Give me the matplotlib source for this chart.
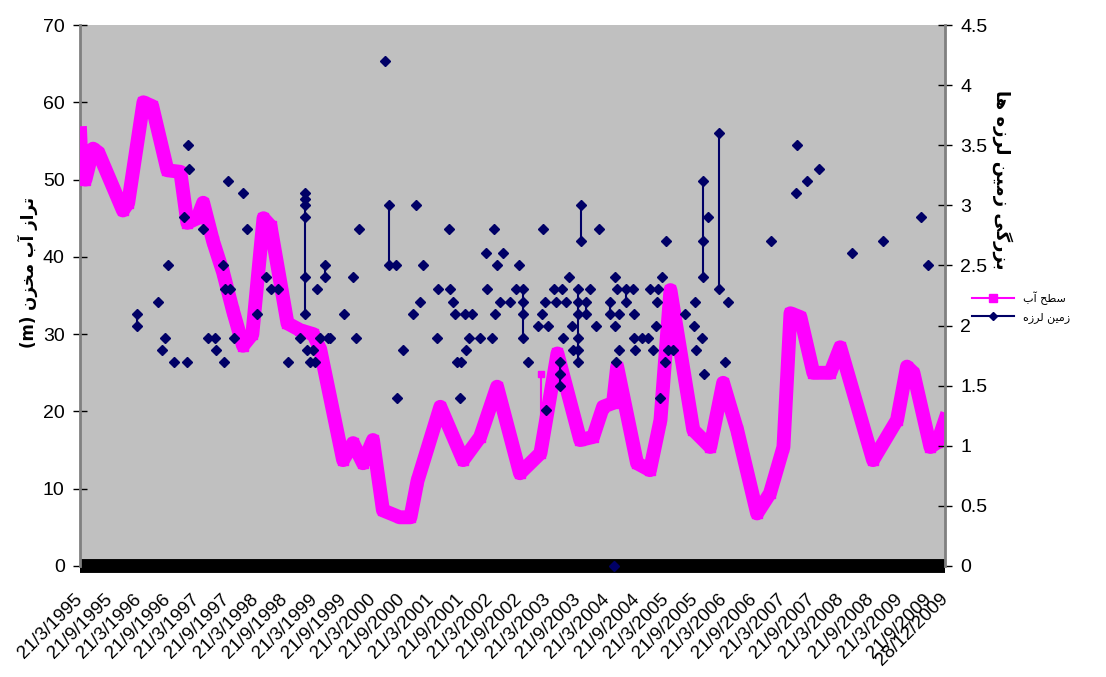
import datetime
import numpy as np
import matplotlib
matplotlib.use('Agg')
import matplotlib.pyplot as plt
from matplotlib.lines import Line2D

# reservoir water level (m), left axis
level_year = [1995.22, 1995.25, 1995.31, 1995.44, 1995.53, 1995.95, 1996.04, 1996.30,
              1996.45, 1996.71, 1996.93, 1997.05, 1997.22, 1997.32, 1997.49, 1997.66,
              1997.83, 1998.00, 1998.16, 1998.35, 1998.47, 1998.76, 1998.98, 1999.20,
              1999.32, 1999.71, 1999.88, 2000.05, 2000.22, 2000.39, 2000.68, 2000.86,
              2000.98, 2001.37, 2001.76, 2002.05, 2002.34, 2002.73, 2003.08, 2003.37,
              2003.76, 2003.98, 2004.15, 2004.32, 2004.39, 2004.73, 2004.95, 2005.13,
              2005.30, 2005.69, 2005.98, 2006.20, 2006.44, 2006.78, 2007.00, 2007.23,
              2007.35, 2007.52, 2007.74, 2008.03, 2008.20, 2008.76, 2009.17, 2009.34,
              2009.45, 2009.74, 2009.86, 2009.99]
level_m = [56, 50.5, 50, 54, 53.5, 46, 47, 60,
           59.5, 51.2, 51, 44.4, 45, 47, 42, 38,
           33, 28.5, 30, 45, 44, 31.4, 30.5, 30,
           28, 13.7, 15.9, 13.3, 16.3, 7.2, 6.3, 6.3,
           11, 20.6, 13.7, 16.7, 23.2, 12, 14.6, 27.5,
           16.3, 16.7, 20.6, 21.1, 25.8, 13.3, 12.4, 18.9,
           35.7, 17.6, 15.4, 23.7, 17.6, 6.8, 9.4, 15.4,
           32.7, 32.2, 25, 25, 28.3, 13.7, 18.9, 25.8,
           25, 15.4, 16, 18.9]

# short stray segments of the level series
spike_year = [2003.09, 2005.16]
spike_low = [17.2, 20.5]
spike_high = [24.8, 26.4]

# earthquakes: date and magnitude, right axis
quake_year = [1996.19, 1996.19, 1996.55, 1996.62, 1996.67, 1996.72, 1996.83, 1997.00,
              1997.05, 1997.06, 1997.08, 1997.32, 1997.41, 1997.53, 1997.54, 1997.66,
              1997.67, 1997.70, 1997.75, 1997.78, 1997.85, 1998.00, 1998.06, 1998.24,
              1998.40, 1998.47, 1998.60, 1998.77, 1998.98, 1999.06, 1999.06, 1999.06,
              1999.06, 1999.06, 1999.06, 1999.10, 1999.15, 1999.20, 1999.23, 1999.27,
              1999.32, 1999.40, 1999.40, 1999.46, 1999.49, 1999.73, 1999.88, 1999.93,
              1999.98, 2000.43, 2000.50, 2000.50, 2000.62, 2000.63, 2000.74, 2000.91,
              2000.96, 2001.03, 2001.08, 2001.32, 2001.33, 2001.52, 2001.54, 2001.59,
              2001.62, 2001.66, 2001.71, 2001.73, 2001.80, 2001.81, 2001.86, 2001.91,
              2002.05, 2002.15, 2002.16, 2002.26, 2002.29, 2002.31, 2002.34, 2002.39,
              2002.44, 2002.56, 2002.67, 2002.72, 2002.79, 2002.79, 2002.79, 2002.79,
              2002.87, 2003.04, 2003.11, 2003.13, 2003.16, 2003.18, 2003.21, 2003.31,
              2003.35, 2003.42, 2003.42, 2003.42, 2003.45, 2003.47, 2003.52, 2003.57,
              2003.62, 2003.63, 2003.72, 2003.72, 2003.72, 2003.72, 2003.72, 2003.72,
              2003.78, 2003.78, 2003.86, 2003.86, 2003.93, 2004.03, 2004.08, 2004.27,
              2004.27, 2004.34, 2004.35, 2004.36, 2004.37, 2004.39, 2004.42, 2004.43,
              2004.54, 2004.54, 2004.66, 2004.67, 2004.68, 2004.70, 2004.82, 2004.92,
              2004.95, 2005.01, 2005.06, 2005.07, 2005.09, 2005.13, 2005.16, 2005.21,
              2005.23, 2005.26, 2005.35, 2005.55, 2005.71, 2005.72, 2005.73, 2005.84,
              2005.86, 2005.86, 2005.86, 2005.88, 2005.94, 2006.13, 2006.13, 2006.24,
              2006.29, 2007.02, 2007.45, 2007.46, 2007.64, 2007.84, 2008.40, 2008.93,
              2009.58, 2009.70]
quake_mag = [2.1, 2.0, 2.2, 1.8, 1.9, 2.5, 1.7, 2.9,
             1.7, 3.5, 3.3, 2.8, 1.9, 1.9, 1.8, 2.5,
             1.7, 2.3, 3.2, 2.3, 1.9, 3.1, 2.8, 2.1,
             2.4, 2.3, 2.3, 1.7, 1.9, 3.1, 3.05, 3.0,
             2.9, 2.4, 2.1, 1.8, 1.7, 1.8, 1.7, 2.3,
             1.9, 2.5, 2.4, 1.9, 1.9, 2.1, 2.4, 1.9,
             2.8, 4.2, 3.0, 2.5, 2.5, 1.4, 1.8, 2.1,
             3.0, 2.2, 2.5, 1.9, 2.3, 2.8, 2.3, 2.2,
             2.1, 1.7, 1.4, 1.7, 2.1, 1.8, 1.9, 2.1,
             1.9, 2.6, 2.3, 1.9, 2.8, 2.1, 2.5, 2.2,
             2.6, 2.2, 2.3, 2.5, 2.3, 2.2, 2.1, 1.9,
             1.7, 2.0, 2.1, 2.8, 2.2, 1.3, 2.0, 2.3,
             2.2, 1.7, 1.6, 1.5, 2.3, 1.9, 2.2, 2.4,
             2.0, 1.8, 2.3, 2.2, 2.1, 1.9, 1.8, 1.7,
             3.0, 2.7, 2.2, 2.1, 2.3, 2.0, 2.8, 2.2,
             2.1, 0.0, 2.4, 2.0, 1.7, 2.3, 2.1, 1.8,
             2.3, 2.2, 2.3, 2.1, 1.9, 1.8, 1.9, 1.9,
             2.3, 1.8, 2.0, 2.2, 2.3, 1.4, 2.4, 1.7,
             2.7, 1.8, 1.8, 2.1, 2.0, 2.2, 1.8, 1.9,
             3.2, 2.7, 2.4, 1.6, 2.9, 3.6, 2.3, 1.7,
             2.2, 2.7, 3.1, 3.5, 3.2, 3.3, 2.6, 2.7,
             2.9, 2.5]

tick_labels = ['21/3/1995', '21/9/1995', '21/3/1996', '21/9/1996', '21/3/1997',
               '21/9/1997', '21/3/1998', '21/9/1998', '21/3/1999', '21/9/1999',
               '21/3/2000', '21/9/2000', '21/3/2001', '21/9/2001', '21/3/2002',
               '21/9/2002', '21/3/2003', '21/9/2003', '21/3/2004', '21/9/2004',
               '21/3/2005', '21/9/2005', '21/3/2006', '21/9/2006', '21/3/2007',
               '21/9/2007', '21/3/2008', '21/9/2008', '21/3/2009', '21/9/2009',
               '28/12/2009']


def dec_year(s):
    d = datetime.datetime.strptime(s, '%d/%m/%Y')
    start = datetime.datetime(d.year, 1, 1)
    return d.year + (d - start).days / 365.0


# persian letters -> (isolated, final, initial, medial) presentation forms
FORMS = {
    'ا': ('\uFE8D', '\uFE8E', None, None),
    'آ': ('\uFE81', '\uFE82', None, None),
    'ب': ('\uFE8F', '\uFE90', '\uFE91', '\uFE92'),
    'ت': ('\uFE95', '\uFE96', '\uFE97', '\uFE98'),
    'ح': ('\uFEA1', '\uFEA2', '\uFEA3', '\uFEA4'),
    'خ': ('\uFEA5', '\uFEA6', '\uFEA7', '\uFEA8'),
    'ر': ('\uFEAD', '\uFEAE', None, None),
    'ز': ('\uFEAF', '\uFEB0', None, None),
    'س': ('\uFEB1', '\uFEB2', '\uFEB3', '\uFEB4'),
    'ط': ('\uFEC1', '\uFEC2', '\uFEC3', '\uFEC4'),
    'ل': ('\uFEDD', '\uFEDE', '\uFEDF', '\uFEE0'),
    'م': ('\uFEE1', '\uFEE2', '\uFEE3', '\uFEE4'),
    'ن': ('\uFEE5', '\uFEE6', '\uFEE7', '\uFEE8'),
    'ه': ('\uFEE9', '\uFEEA', '\uFEEB', '\uFEEC'),
    'گ': ('\uFB92', '\uFB93', '\uFB94', '\uFB95'),
    'ی': ('\uFBFC', '\uFBFD', '\uFBFE', '\uFBFF'),
}


def fa(text):
    # join letters and put them in visual (right to left) order
    out = []
    for i, ch in enumerate(text):
        if ch not in FORMS:
            out.append(ch)
            continue
        iso, fin, ini, med = FORMS[ch]
        prev = text[i - 1] if i > 0 else ' '
        nxt = text[i + 1] if i < len(text) - 1 else ' '
        a = prev in FORMS and FORMS[prev][2] is not None
        b = ini is not None and nxt in FORMS
        out.append(med if (a and b) else fin if a else ini if b else iso)
    return ''.join(reversed(out))


pink = '#FF00FF'
navy = '#000066'
axis_grey = '#808080'

fig = plt.figure(figsize=(11.06, 6.77), dpi=100)
ax = fig.add_axes([80 / 1106, 1 - 566 / 677, 865 / 1106, 541 / 677])
ax.set_facecolor('#C0C0C0')

tick_pos = [dec_year(s) for s in tick_labels]
ax.set_xlim(tick_pos[0], tick_pos[-1])
ax.set_ylim(0, 70)

ax.axhline(0, color='black', lw=10, clip_on=False, zorder=1, solid_capstyle='butt')
ax.plot(level_year, level_m, color=pink, lw=10, marker='s', ms=7,
        solid_joinstyle='round', zorder=3)
ax.vlines(spike_year, spike_low, spike_high, color=pink, lw=1.5, zorder=3)
ax.plot(spike_year, spike_high, 's', color=pink, ms=5, zorder=3)

ax.set_yticks(range(0, 71, 10))
ax.set_xticks(tick_pos)
ax.set_xticklabels(tick_labels, rotation=45, ha='right', va='center',
                   rotation_mode='anchor', family='Liberation Sans', fontsize=13.5)
ax.tick_params(axis='x', length=0, pad=22)
ax.tick_params(axis='y', direction='inout', length=10, width=1, colors='black',
               labelsize=14, pad=6)
for lab in ax.get_yticklabels():
    lab.set_family('Liberation Sans')
for s in ['top', 'bottom', 'right']:
    ax.spines[s].set_visible(False)
ax.spines['left'].set_color(axis_grey)
ax.spines['left'].set_linewidth(2)

ax2 = ax.twinx()
ax2.set_ylim(0, 4.5)
mag_ticks = [0, 0.5, 1, 1.5, 2, 2.5, 3, 3.5, 4, 4.5]
ax2.set_yticks(mag_ticks)
ax2.set_yticklabels(['%g' % t for t in mag_ticks], family='Liberation Sans', fontsize=14)
ax2.tick_params(axis='y', direction='inout', length=10, width=1, pad=6)
for s in ['top', 'bottom', 'left']:
    ax2.spines[s].set_visible(False)
ax2.spines['right'].set_color(axis_grey)
ax2.spines['right'].set_linewidth(2)

qy = np.array(quake_year)
qm = np.array(quake_mag)
for yr in np.unique(qy):
    m = qm[qy == yr]
    if len(m) > 1:
        ax2.vlines(yr, m.min(), m.max(), color=navy, lw=1.5, zorder=4)
ax2.plot(qy, qm, 'D', color=navy, ms=5.5, zorder=5, clip_on=False)

fig.text(28 / 1106, 1 - 272 / 677, '(m) ' + fa('تراز آب مخزن'), rotation=90,
         ha='center', va='center', fontsize=12, fontweight='bold', family='DejaVu Sans')
fig.text(1002 / 1106, 1 - 180 / 677, fa('بزرگی زمین لرزه ها'), rotation=-90,
         ha='center', va='center', fontsize=13, fontweight='bold', family='DejaVu Sans')

handles = [Line2D([], [], color=pink, lw=1.5, marker='s', ms=6),
           Line2D([], [], color=navy, lw=1.5, marker='D', ms=4)]
leg = fig.legend(handles, [fa('سطح آب'), fa('زمین لرزه')], loc='center left',
                 bbox_to_anchor=(962 / 1106, 1 - 307 / 677), frameon=False,
                 prop={'family': 'DejaVu Sans', 'size': 8}, handlelength=3.8,
                 labelspacing=0.6)

fig.savefig('out.png', dpi=100)
